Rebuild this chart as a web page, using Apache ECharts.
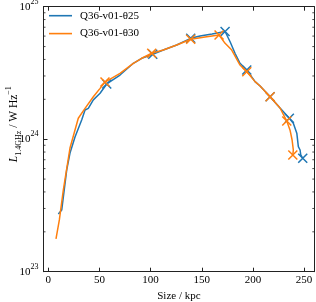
<!DOCTYPE html>
<html><head><meta charset="utf-8">
<script src="https://cdn.jsdelivr.net/npm/echarts@6/dist/echarts.min.js"></script>
<style>html,body{margin:0;padding:0;background:#fff}#c{width:316px;height:302px}</style>
</head><body><div id="c"></div>
<script>
// Q36-v01-θ25 (blue)
const blueX = [9.8, 13.1, 18.0, 21.2, 26.1, 32.7, 35.9, 39.1, 44.0, 50.6, 57.1, 70.1, 83.1, 91.3, 102.1, 112.4, 125.5, 139.2, 148.3, 160.1, 172.8, 177.7, 182.5, 187.4, 194.0, 202.1, 207.0, 216.8, 226.5, 235.6, 239.5, 242.9, 244.4, 246.1, 246.8, 248.7];
const blueY = [2.73e23, 2.92e23, 5.86e23, 7.87e23, 1.04e24, 1.40e24, 1.66e24, 1.71e24, 1.98e24, 2.22e24, 2.61e24, 3.05e24, 3.74e24, 4.08e24, 4.37e24, 4.71e24, 5.14e24, 5.77e24, 6.01e24, 6.22e24, 6.50e24, 5.44e24, 4.45e24, 3.74e24, 3.33e24, 2.72e24, 2.52e24, 2.09e24, 1.72e24, 1.44e24, 1.32e24, 1.11e24, 8.78e23, 8.29e23, 7.60e23, 7.18e23];
const blueMarkX = [57.1, 102.1, 139.2, 172.8, 194.0, 216.8, 235.6, 248.7];
const blueMarkY = [2.61e24, 4.37e24, 5.77e24, 6.50e24, 3.33e24, 2.09e24, 1.44e24, 7.18e23];
// Q36-v01-θ30 (orange)
const orangeX = [7.5, 10.8, 14.7, 21.2, 29.3, 35.9, 44.0, 50.6, 55.4, 70.1, 83.1, 91.3, 101.1, 112.4, 125.5, 139.2, 153.2, 166.9, 172.8, 179.3, 187.4, 194.0, 202.1, 207.0, 216.8, 226.5, 233.1, 236.3, 238.3, 239.5, 239.0];
const orangeY = [1.77e23, 2.46e23, 4.14e23, 8.58e23, 1.44e24, 1.71e24, 2.09e24, 2.42e24, 2.70e24, 3.14e24, 3.74e24, 4.08e24, 4.45e24, 4.71e24, 5.14e24, 5.68e24, 5.91e24, 6.12e24, 5.29e24, 4.71e24, 3.63e24, 3.23e24, 2.72e24, 2.52e24, 2.09e24, 1.72e24, 1.37e24, 1.17e24, 9.86e23, 8.29e23, 7.60e23];
const orangeMarkX = [55.4, 101.1, 139.2, 166.9, 194.0, 216.8, 233.1, 239.0];
const orangeMarkY = [2.70e24, 4.45e24, 5.68e24, 6.12e24, 3.23e24, 2.09e24, 1.37e24, 7.60e23];
const seriesNames = ['Q36-v01-θ25', 'Q36-v01-θ30'];
const xTicks = [0, 50, 100, 150, 200, 250];
const yMinorTicks = [2e23,3e23,4e23,5e23,6e23,7e23,8e23,9e23,2e24,3e24,4e24,5e24,6e24,7e24,8e24,9e24];

const FONT = 'Liberation Serif';
const INK = '#222';
const BLUE = '#1f77b4', ORANGE = '#ff7f0e';
const zip = (a, b) => a.map((v, i) => [v, b[i]]);
const XSYM = 'path://M0,0L10,10M10,0L0,10';

const xBase = {
  type: 'value', min: -4.7, max: 260,
  axisLine: {show: true, onZero: false, lineStyle: {color: INK, width: 1}},
  axisTick: {show: true, inside: true, length: 4, customValues: xTicks, lineStyle: {color: INK, width: 1}},
  splitLine: {show: false}
};
const yBase = {
  type: 'log', logBase: 10, min: 1e23, max: 1e25,
  axisLine: {show: true, onZero: false, lineStyle: {color: INK, width: 1}},
  axisTick: {show: true, inside: true, length: 4, lineStyle: {color: INK, width: 1}},
  splitLine: {show: false}
};

const chart = echarts.init(document.getElementById('c'), null, {renderer: 'canvas'});
chart.setOption({
  animation: false,
  backgroundColor: '#fff',
  textStyle: {fontFamily: FONT},
  grid: {left: 43.5, right: 1.7, top: 6.7, bottom: 30.3, containLabel: false, outerBoundsMode: 'none'},
  legend: {
    orient: 'vertical', left: 44, top: 3.7, icon: 'rect', itemWidth: 23, itemHeight: 1.6, itemGap: 3.9,
    data: seriesNames,
    textStyle: {fontFamily: FONT, fontSize: 11, lineHeight: 14, color: '#000', padding: [0, 0, 0, 3]}
  },
  xAxis: [
    Object.assign({}, xBase, {
      position: 'bottom',
      name: 'Size / kpc', nameLocation: 'middle', nameGap: 19, nameMoveOverlap: false,
      nameTextStyle: {fontFamily: FONT, fontSize: 11, color: '#000'},
      axisLabel: {show: true, margin: 3, customValues: xTicks,
        fontFamily: FONT, fontSize: 11, color: '#000'}
    }),
    Object.assign({}, xBase, {position: 'top', axisLabel: {show: false}})
  ],
  yAxis: [
    Object.assign({}, yBase, {
      position: 'left',
      name: '{gap|\u00a0}{it|L}{sub|1.4GHz}{n| / W Hz}{sup|−1}', nameLocation: 'middle', nameGap: 21, nameRotate: 90,
      nameMoveOverlap: false,
      nameTextStyle: {fontFamily: FONT, color: '#000',
        rich: {
          gap: {fontSize: 11, lineHeight: 18, width: 30},
          it: {fontFamily: FONT, fontStyle: 'italic', fontSize: 11.5, lineHeight: 18, color: '#000'},
          n: {fontFamily: FONT, fontSize: 11.5, lineHeight: 18, color: '#000'},
          sub: {fontFamily: FONT, fontSize: 8, lineHeight: 12, verticalAlign: 'bottom', color: '#000'},
          sup: {fontFamily: FONT, fontSize: 8, lineHeight: 8, verticalAlign: 'top', color: '#000'}
        }},
      axisLabel: {show: true, margin: 5, color: '#000',
        formatter: v => '{b|10}{s|' + Math.round(Math.log10(v)) + '}',
        rich: {
          b: {fontFamily: FONT, fontSize: 11, lineHeight: 18, color: '#000'},
          s: {fontFamily: FONT, fontSize: 8, lineHeight: 8, verticalAlign: 'top', color: '#000'}
        }}
    }),
    Object.assign({}, yBase, {position: 'right', axisLabel: {show: false}})
  ],
  series: [
    {name: seriesNames[0], type: 'line', data: zip(blueX, blueY), showSymbol: false, symbol: 'none',
     lineStyle: {color: BLUE, width: 1.5}, itemStyle: {color: BLUE}, z: 3},
    {name: 'm0', type: 'scatter', data: zip(blueMarkX, blueMarkY), symbol: XSYM, symbolSize: 9,
     itemStyle: {color: 'none', borderColor: BLUE, borderWidth: 1.5, opacity: 1}, z: 4},
    {name: seriesNames[1], type: 'line', data: zip(orangeX, orangeY), showSymbol: false, symbol: 'none',
     lineStyle: {color: ORANGE, width: 1.5}, itemStyle: {color: ORANGE}, z: 5},
    {name: 'm1', type: 'scatter', data: zip(orangeMarkX, orangeMarkY), symbol: XSYM, symbolSize: 9,
     itemStyle: {color: 'none', borderColor: ORANGE, borderWidth: 1.5, opacity: 1}, z: 6},
    {name: 'minor', type: 'custom', silent: true, z: 7,
     data: yMinorTicks.map(v => [0, v]),
     renderItem: function (params, api) {
       const y = api.coord([0, api.value(1)])[1];
       const cs = params.coordSys;
       return {type: 'group', children: [
         {type: 'line', shape: {x1: cs.x, y1: y, x2: cs.x + 2, y2: y}, style: {stroke: INK, lineWidth: 0.8}},
         {type: 'line', shape: {x1: cs.x + cs.width - 2, y1: y, x2: cs.x + cs.width, y2: y}, style: {stroke: INK, lineWidth: 0.8}}
       ]};
     }}
  ]
});
</script></body></html>
